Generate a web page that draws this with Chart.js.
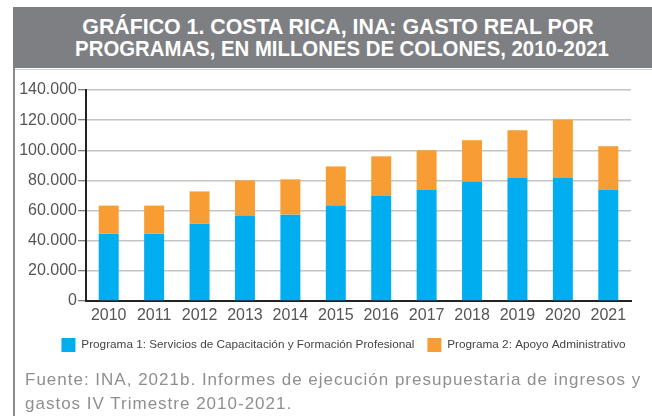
<!DOCTYPE html>
<html>
<head>
<meta charset="utf-8">
<script src="https://cdn.jsdelivr.net/npm/chart.js@4"></script>
<style>
  html, body { margin:0; padding:0; background:#fff; width:652px; height:416px; overflow:hidden; position:relative; }
  #band { position:absolute; left:13px; top:7px; width:660px; height:61px; background:#7e7f83; }
  .tl { position:absolute; left:0; width:680px; text-align:center; color:#fff; white-space:nowrap;
        font-family:"Liberation Sans",Arial,sans-serif; font-weight:bold; font-size:22px; line-height:22px; }
  #t1 { top:16px; transform-origin:340px 50%; transform:scaleX(0.97); left:-2px; }
  #t2 { top:38px; transform-origin:340px 50%; transform:scaleX(0.925); left:2px; }
  #sep { position:absolute; left:15px; top:69px; width:640px; height:1px; background:#cfcfcf; }
  #lborder { position:absolute; left:13px; top:68px; width:2px; height:360px; background:#8a8a8b; }
  #foot { position:absolute; left:25px; top:368px; color:#8f8f8f; font-family:"Liberation Sans",Arial,sans-serif;
          font-size:17px; line-height:24px; letter-spacing:1px; white-space:nowrap; }
  #c { position:absolute; left:0; top:0; }
</style>
</head>
<body>
<div id="band"></div>
<div id="t1" class="tl">GRÁFICO 1. COSTA RICA, INA: GASTO REAL POR</div>
<div id="t2" class="tl">PROGRAMAS, EN MILLONES DE COLONES, 2010-2021</div>
<div id="sep"></div>
<div id="lborder"></div>
<canvas id="c" width="652" height="416"></canvas>
<div id="foot">Fuente: INA, 2021b. Informes de ejecución presupuestaria de ingresos y<br>gastos IV Trimestre 2010-2021.</div>
<script>
const years = ['2010','2011','2012','2013','2014','2015','2016','2017','2018','2019','2020','2021'];
const programa1 = [44700, 44700, 51300, 56700, 57300, 63300, 70000, 73600, 79300, 82000, 82000, 73600];
const programa2 = [18600, 18600, 21400, 23300, 23400, 26000, 26000, 26400, 27400, 31300, 38200, 29100];
const seriesNames = ['Programa 1: Servicios de Capacitación y Formación Profesional', 'Programa 2: Apoyo Administrativo'];
const yTickLabels = ['0','20.000','40.000','60.000','80.000','100.000','120.000','140.000'];

const shiftLegend = {
  id: 'shiftLegend',
  afterLayout(chart) {
    const l = chart.legend;
    if (l) { l.left += 28; l.right += 28; }
  }
};

new Chart(document.getElementById('c'), {
  type: 'bar',
  data: {
    labels: years,
    datasets: [
      { label: seriesNames[0], data: programa1, backgroundColor: '#00aeef', barPercentage: 0.44, categoryPercentage: 1.0 },
      { label: seriesNames[1], data: programa2, backgroundColor: '#f79d34', barPercentage: 0.44, categoryPercentage: 1.0 }
    ]
  },
  plugins: [shiftLegend],
  options: {
    responsive: false,
    animation: false,
    layout: { padding: { top: 90, left: 0, right: 21, bottom: 54 } },
    plugins: {
      tooltip: { enabled: false },
      legend: {
        position: 'bottom',
        labels: {
          boxWidth: 14, boxHeight: 14, padding: 13, color: '#444',
          font: { family: '"Liberation Sans",Arial,sans-serif', size: 11.75 }
        }
      }
    },
    scales: {
      x: {
        stacked: true,
        grid: { display: false, drawTicks: false },
        border: { display: true, color: '#222', width: 2 },
        ticks: { color: '#555', padding: 5, font: { family: '"Liberation Sans",Arial,sans-serif', size: 16 } },
        afterFit: (s) => { s.height = 24; }
      },
      y: {
        stacked: true,
        min: 0, max: 140000,
        ticks: { stepSize: 20000, color: '#555', padding: 1,
                 font: { family: '"Liberation Sans",Arial,sans-serif', size: 16 },
                 callback: (v) => yTickLabels[Math.round(v / 20000)] },
        grid: { color: '#c4c4c4', lineWidth: 1.5, tickLength: 8, tickColor: '#555', tickWidth: 1 },
        border: { display: true, color: '#222', width: 2 },
        afterFit: (s) => { s.width = 86; }
      }
    }
  }
});
</script>
</body>
</html>
